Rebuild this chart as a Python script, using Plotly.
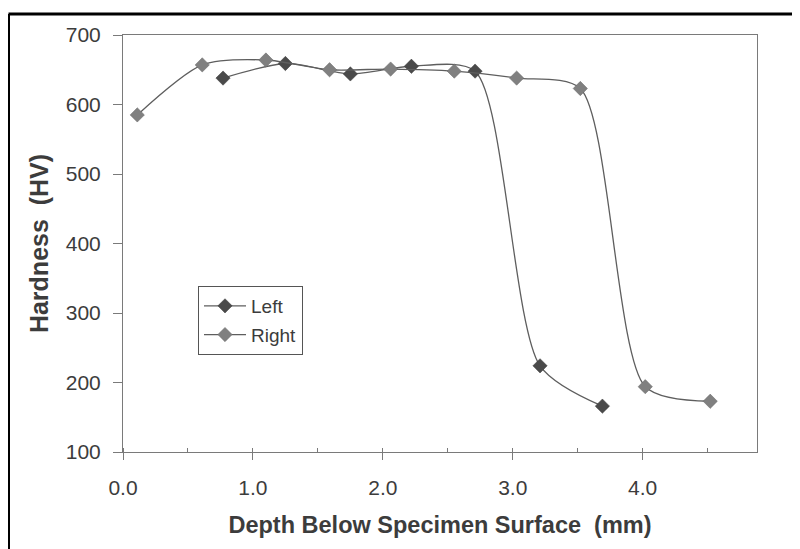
import plotly.graph_objects as go

# Data
left_depth = [0.77, 1.25, 1.75, 2.22, 2.71, 3.21, 3.69]
left_hv = [638, 659, 644, 655, 648, 224, 166]
right_depth = [0.11, 0.61, 1.10, 1.59, 2.06, 2.55, 3.03, 3.52, 4.02, 4.52]
right_hv = [585, 657, 664, 650, 651, 648, 638, 623, 194, 173]

x_ticks = [0, 1, 2, 3, 4]
x_ticklabels = ["0.0", "1.0", "2.0", "3.0", "4.0"]
y_ticks = [100, 200, 300, 400, 500, 600, 700]

FONT = "Liberation Sans, Arial, sans-serif"
TXT = "#3c3c3c"
LINE = "#5e5e5e"
AX = "#7a7a7a"

fig = go.Figure()
fig.add_trace(go.Scatter(
    x=left_depth, y=left_hv, name="Left", mode="lines+markers", legendgroup="a",
    line=dict(color=LINE, width=1.3, shape="spline", smoothing=0.75),
    marker=dict(symbol="diamond", size=11, color="#4a4a4a",
                line=dict(color="#3a3a3a", width=0.5)),
))
fig.add_trace(go.Scatter(
    x=right_depth, y=right_hv, name="Right", mode="lines+markers", legendgroup="b",
    line=dict(color=LINE, width=1.3, shape="spline", smoothing=0.75),
    marker=dict(symbol="diamond", size=11, color="#808080",
                line=dict(color="#666666", width=0.5)),
))

# page is shown with an 8px body margin, so figure coords = screen - 8
OFF = 8
W, H = 800, 549
L, R, T, B = 123 - OFF, 757 - OFF, 35 - OFF, 452 - OFF
pw, ph = R - L, B - T

def px_x(p):
    return (p - OFF - L) / pw

def px_y(p):
    return (B - (p - OFF)) / ph

fig.update_layout(
    width=W, height=H,
    margin=dict(l=L, r=W - R, t=T, b=H - B, autoexpand=False),
    paper_bgcolor="white", plot_bgcolor="white",
    font=dict(family=FONT, color=TXT),
    showlegend=True,
    legend=dict(
        x=px_x(198), y=px_y(286), xanchor="left", yanchor="top",
        bgcolor="white", bordercolor="#555555", borderwidth=1,
        font=dict(size=19, family=FONT, color=TXT),
        tracegroupgap=1, itemwidth=42,
    ),
    xaxis=dict(
        range=[0, 4.88], tickvals=x_ticks, ticktext=x_ticklabels,
        showgrid=False, zeroline=False,
        showline=True, linecolor=AX, linewidth=1, mirror=True,
        ticks="outside", ticklen=7, tickcolor=AX,
        ticklabelstandoff=10,
        tickfont=dict(size=21, family=FONT, color=TXT),
        minor=dict(ticks="inside", dtick=0.5, tick0=0, ticklen=4, tickcolor=AX),
        title=dict(text="<b>Depth Below Specimen Surface\u00a0 (mm)</b>",
                   font=dict(size=23.5, family=FONT, color=TXT), standoff=18),
    ),
    xaxis2=dict(
        overlaying="x", matches="x", range=[0, 4.88], tickvals=x_ticks,
        showticklabels=False, showgrid=False, zeroline=False, showline=False,
        ticks="inside", ticklen=6, tickcolor=AX, side="bottom",
    ),
    yaxis=dict(
        range=[100, 700], tickvals=y_ticks,
        showgrid=False, zeroline=False,
        showline=True, linecolor=AX, linewidth=1, mirror=True,
        ticks="outside", ticklen=9, tickcolor=AX,
        ticklabelstandoff=8,
        tickfont=dict(size=21, family=FONT, color=TXT),
        title=dict(text="<b>Hardness\u00a0 (HV)</b>",
                   font=dict(size=25, family=FONT, color=TXT), standoff=10),
    ),
    shapes=[
        dict(type="line", xref="paper", yref="paper",
             x0=px_x(8.5), x1=px_x(830), y0=px_y(14), y1=px_y(14),
             line=dict(color="black", width=3)),
        dict(type="line", xref="paper", yref="paper",
             x0=px_x(8.5), x1=px_x(8.5), y0=px_y(14), y1=px_y(600),
             line=dict(color="black", width=3)),
    ],
)

fig.write_html("out.html")
